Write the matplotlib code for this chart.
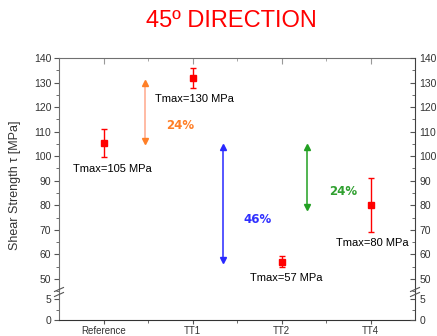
import matplotlib.pyplot as plt
from matplotlib.ticker import MultipleLocator, FixedLocator
from matplotlib.lines import Line2D

# data
categories = ["Reference", "TT1", "TT2", "TT4"]
x_pos = [1, 2, 3, 4]
tau_mean = [105.5, 131.8, 57.1, 80.0]
tau_err = [5.7, 4.0, 2.3, 11.0]
tmax_labels = ["Tmax=105 MPa", "Tmax=130 MPa", "Tmax=57 MPa", "Tmax=80 MPa"]
tmax_xy = [(1.10, 94.9), (2.02, 123.2), (3.05, 50.3), (4.02, 64.8)]

# double arrows: x, y_top, y_bottom, percent label, label position, colours
arrow_x = [1.47, 2.34, 3.29]
arrow_top = [130.0, 103.6, 103.9]
arrow_bot = [106.0, 57.8, 79.5]
pct_labels = ["24%", "46%", "24%"]
pct_xy = [(1.86, 112.4), (2.73, 74.3), (3.69, 85.8)]
line_colors = ["#FFA88C", "#2828FF", "#22A022"]
head_colors = ["#FF7F27", "#2828FF", "#22A022"]
text_colors = ["#FF7F27", "#3030FF", "#30A030"]

plt.rcParams['font.family'] = ['Liberation Sans', 'DejaVu Sans']

fig = plt.figure(figsize=(4.37, 3.36), dpi=100)
L, W = 59 / 437, (415 - 59) / 437
y_break = 1 - 292 / 336
y_top = 1 - 58 / 336
y_bot = 1 - 320 / 336
ax = fig.add_axes([L, y_break, W, y_top - y_break])
axl = fig.add_axes([L, y_bot, W, y_break - y_bot], sharex=ax)

ax.set_ylim(44.7, 140)
axl.set_ylim(0, 6.67)
ax.set_xlim(0.5, 4.5)

spine_c = "#707070"
tick_c = "#333333"
lab_size = 7.5

# points with error bars (upper panel)
ax.errorbar(x_pos, tau_mean, yerr=tau_err, fmt='s', color='#FF0000',
            ms=5, capsize=2.2, elinewidth=1, capthick=1, zorder=5)
for (tx, ty), lab in zip(tmax_xy, tmax_labels):
    ax.text(tx, ty, lab, ha='center', va='center', fontsize=8,
            color='#000000')

# double headed arrows with percentage
for i in range(len(arrow_x)):
    ax.plot([arrow_x[i], arrow_x[i]], [arrow_top[i], arrow_bot[i]],
            color=line_colors[i], lw=1.1, zorder=3)
    ax.plot(arrow_x[i], arrow_top[i], marker='^', color=head_colors[i],
            ms=4.5, zorder=4)
    ax.plot(arrow_x[i], arrow_bot[i], marker='v', color=head_colors[i],
            ms=4.5, zorder=4)
    ax.text(pct_xy[i][0], pct_xy[i][1], pct_labels[i], ha='center',
            va='center', fontsize=8.5, fontweight='bold',
            color=text_colors[i], family='DejaVu Sans')

# upper panel styling
ax.yaxis.set_minor_locator(MultipleLocator(5))
ax.set_yticks(range(50, 141, 10))
ax.spines['bottom'].set_visible(False)
ax.xaxis.set_major_locator(FixedLocator(x_pos))
ax.xaxis.set_minor_locator(FixedLocator([1.5, 2.5, 3.5]))
ax.tick_params(axis='x', which='both', bottom=False, top=True,
               labelbottom=False, direction='in', colors='#999999')
ax.tick_params(axis='x', which='major', length=4)
ax.tick_params(axis='x', which='minor', length=2.5)

# lower panel styling
axl.set_yticks([0, 5])
axl.yaxis.set_minor_locator(MultipleLocator(2.5))
axl.spines['top'].set_visible(False)
axl.set_xticks(x_pos)
axl.set_xticklabels(categories)
axl.tick_params(axis='x', which='both', direction='out', top=False,
                colors='#555555', labelcolor=tick_c, labelsize=7, pad=1.5)
axl.tick_params(axis='x', which='major', length=3)
axl.tick_params(axis='x', which='minor', length=2)

for a in (ax, axl):
    a.tick_params(axis='y', which='both', direction='out', right=False,
                  colors='#555555', labelcolor=tick_c, labelsize=lab_size,
                  pad=2)
    a.tick_params(axis='y', which='major', length=3.5)
    a.tick_params(axis='y', which='minor', length=2)
    a.spines['right'].set_visible(False)
    for s in a.spines.values():
        s.set_color(spine_c)
    a.spines['bottom'].set_color('#333333')

    # right axis, ticks pointing inward
    r = a.twinx()
    r.set_ylim(a.get_ylim())
    r.set_yticks(a.get_yticks())
    r.yaxis.set_minor_locator(a.yaxis.get_minor_locator())
    r.tick_params(axis='y', which='both', direction='in', colors='#555555',
                  labelcolor=tick_c, labelsize=lab_size, pad=3)
    r.tick_params(axis='y', which='major', length=3.5)
    r.tick_params(axis='y', which='minor', length=2)
    for name, s in r.spines.items():
        s.set_visible(name == 'right')
        s.set_color('#404040')

ax.spines['bottom'].set_visible(False)
axl.spines['top'].set_visible(False)

# axis break marks
for xb in (L, L + W):
    for dy in (-2.5, 2.5):
        yb = y_break + dy / 336
        fig.add_artist(Line2D([xb - 4.5 / 437, xb + 4.5 / 437],
                              [yb - 2 / 336, yb + 2 / 336],
                              color='#555555', lw=0.8))

fig.text(15 / 437, 1 - 185 / 336, "Shear Strength τ [MPa]", rotation=90,
         ha='center', va='center', fontsize=9, color='#333333')
fig.text(231 / 437, 1 - 21 / 336, "45º DIRECTION", ha='center',
         va='center', fontsize=17, color='#FF0000')

fig.savefig("out.png", dpi=100)
